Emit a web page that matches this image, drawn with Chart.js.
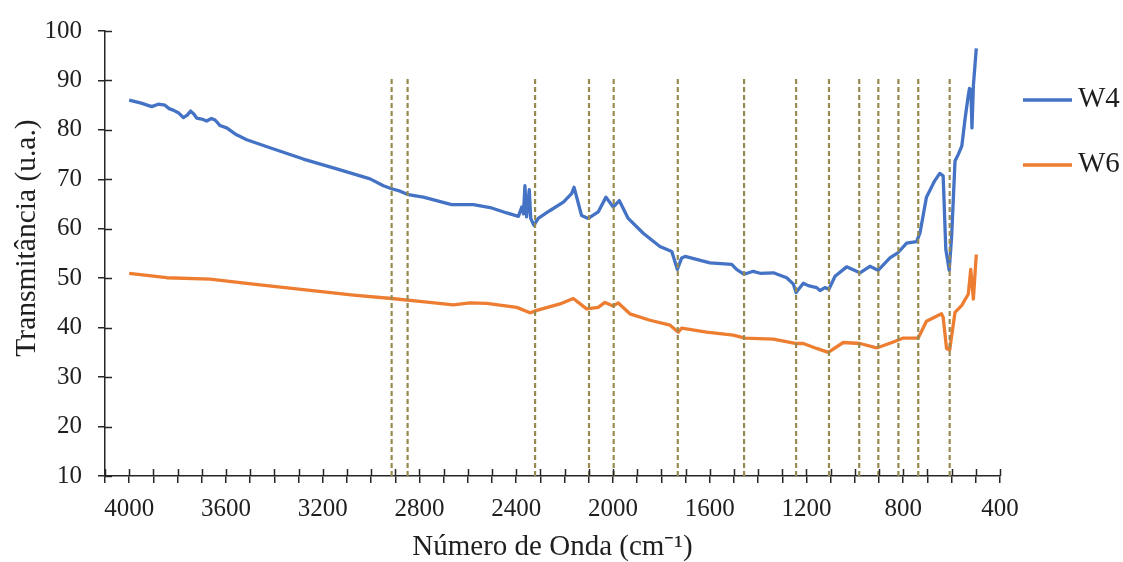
<!DOCTYPE html>
<html><head><meta charset="utf-8">
<script src="https://cdn.jsdelivr.net/npm/chart.js@4.4.0/dist/chart.umd.min.js"></script>
<style>html,body{margin:0;padding:0;background:#fff}#wrap{width:1123px;height:562px}</style>
</head><body><div id="wrap"><canvas id="c" width="1123" height="562"></canvas></div>
<script>
// ---- data ----
const seriesNames = ['W4', 'W6'];
const w4Wavenumber = [4000,3950,3907,3880,3852,3835,3818,3795,3776,3760,3746,3733,3721,3700,3680,3660,3645,3625,3597,3556,3514,3418,3280,3142,3004,2949,2915,2880,2846,2784,2667,2577,2508,2439,2391,2377,2370,2364,2357,2346,2340,2327,2309,2260,2205,2171,2161,2130,2102,2061,2029,1999,1974,1937,1875,1806,1757,1734,1716,1702,1599,1509,1489,1458,1420,1392,1337,1282,1254,1243,1213,1193,1158,1144,1124,1107,1082,1034,993,979,938,904,855,821,786,745,731,704,670,649,635,624,610,600,586,572,558,544,531,526,520,516,510,498];
const w4Values = [86.0,85.4,84.7,85.2,85.0,84.3,84.0,83.4,82.5,83.0,83.8,83.2,82.4,82.2,81.8,82.3,82.0,80.9,80.4,79.0,78.0,76.4,74.1,72.1,70.1,68.7,68.1,67.6,66.9,66.4,64.9,64.9,64.3,63.2,62.5,64.4,63.0,68.7,62.4,67.9,62.1,60.7,62.1,63.7,65.4,67.1,68.4,62.7,62.1,63.4,66.4,64.4,65.7,62.1,59.1,56.4,55.4,51.8,54.1,54.4,53.1,52.8,51.8,50.8,51.4,51.0,51.1,50.1,48.8,47.1,49.0,48.5,48.1,47.5,48.1,47.8,50.4,52.3,51.4,51.1,52.4,51.6,54.1,55.2,57.1,57.4,59.1,66.4,69.7,71.2,70.7,55.8,51.6,58.4,73.7,75.1,76.7,82.4,87.0,88.4,88.0,80.4,89.0,96.5];
const w6Wavenumber = [4000,3845,3666,3487,3280,3073,2915,2798,2660,2591,2522,2398,2343,2315,2219,2164,2109,2061,2033,1999,1978,1930,1847,1764,1730,1716,1613,1503,1454,1337,1247,1213,1158,1110,1048,979,910,841,800,738,704,642,635,621,608,586,558,531,521,510,498];
const w6Values = [51.0,50.1,49.8,48.8,47.7,46.6,45.9,45.3,44.6,45.0,44.9,44.1,43.0,43.5,44.8,45.9,43.8,44.1,45.1,44.4,45.0,42.8,41.5,40.5,39.1,39.9,39.1,38.5,37.9,37.7,36.8,36.8,35.8,35.0,37.0,36.8,35.9,37.1,37.9,37.9,41.3,42.8,42.1,35.8,35.5,43.1,44.5,46.8,51.8,45.8,54.8];
const markerWavenumbers = [2915,2849,2322,2099,1997,1732,1458,1243,1107,982,903,820,738,608];
const markerTop = 90.8;
const xTickLabels = [4000,3600,3200,2800,2400,2000,1600,1200,800,400];
const yTickLabels = [10,20,30,40,50,60,70,80,90,100];
const xTitle = 'Número de Onda (cm⁻¹)';
const yTitle = 'Transmitância (u.a.)';

// ---- styles ----
const FONT = "'Liberation Serif','Times New Roman',serif";
const TXT = '#1f1f1f';
const AX = '#262626';
const colors = ['#4472C4', '#ED7D31'];
const dashColor = '#978A50';

const toXY = (xs, ys) => xs.map((x, i) => ({x: x, y: ys[i]}));

const markerSets = markerWavenumbers.map(v => ({
  label: '', isMarker: true,
  data: [{x: v, y: yTickLabels[0]}, {x: v, y: markerTop}],
  borderColor: dashColor, borderWidth: 2.2, borderDash: [5, 3],
  pointRadius: 0, tension: 0, borderCapStyle: 'butt'
}));

const dataSets = [
  {label: seriesNames[0], data: toXY(w4Wavenumber, w4Values), borderColor: colors[0], borderWidth: 3.3, pointRadius: 0, tension: 0, borderJoinStyle: 'round'},
  {label: seriesNames[1], data: toXY(w6Wavenumber, w6Values), borderColor: colors[1], borderWidth: 3.3, pointRadius: 0, tension: 0, borderJoinStyle: 'round'}
];

const crossTicks = {
  id: 'crossTicks',
  afterDraw(chart) {
    const {ctx, scales: {x, y}, chartArea} = chart;
    ctx.save();
    ctx.strokeStyle = AX; ctx.lineWidth = 1.5;
    ctx.beginPath();
    x.ticks.forEach(t => { const px = Math.round(x.getPixelForValue(t.value)) + 0.5; ctx.moveTo(px, chartArea.bottom); ctx.lineTo(px, chartArea.bottom - 7); });
    y.ticks.forEach(t => { const py = Math.round(y.getPixelForValue(t.value)) + 0.5; ctx.moveTo(chartArea.left, py); ctx.lineTo(chartArea.left + 7, py); });
    ctx.stroke();
    // y axis title
    ctx.translate(27, 238);
    ctx.rotate(-Math.PI / 2);
    ctx.fillStyle = TXT; ctx.font = "29.5px " + FONT; ctx.textAlign = 'center'; ctx.textBaseline = 'middle';
    ctx.fillText(yTitle, 0, 0);
    ctx.restore();
  }
};

const sideLegend = {
  id: 'sideLegend',
  afterDraw(chart) {
    const {ctx} = chart;
    const items = chart.data.datasets.filter(d => !d.isMarker);
    ctx.save();
    items.forEach((d, i) => {
      const yy = 100 + i * 65;
      ctx.strokeStyle = d.borderColor; ctx.lineWidth = 3.3;
      ctx.beginPath(); ctx.moveTo(1023, yy); ctx.lineTo(1072, yy); ctx.stroke();
      ctx.fillStyle = TXT; ctx.font = "29px " + FONT; ctx.textBaseline = 'middle'; ctx.textAlign = 'left';
      ctx.fillText(d.label, 1078, yy - 1);
    });
    ctx.restore();
  }
};

new Chart(document.getElementById('c'), {
  type: 'line',
  data: {datasets: markerSets.concat(dataSets)},
  options: {
    responsive: false, animation: false, devicePixelRatio: 1,
    layout: {padding: {left: 0, top: 25, right: 123, bottom: 0}},
    plugins: {legend: {display: false}, tooltip: {enabled: false}},
    elements: {line: {borderCapStyle: 'butt'}},
    scales: {
      x: {
        type: 'linear', reverse: true, min: 400, max: 4100,
        afterBuildTicks(s) { const t = []; for (let v = 4100; v >= 400; v -= 100) t.push({value: v}); s.ticks = t; },
        afterFit(s) { s.height = 86; },
        ticks: {autoSkip: false, maxRotation: 0, minRotation: 0, padding: 11, color: TXT,
          font: {family: FONT, size: 25},
          callback: v => xTickLabels.includes(v) ? String(v) : ''},
        grid: {drawOnChartArea: false, drawTicks: true, tickLength: 7, color: AX, lineWidth: 1.5},
        border: {display: true, color: AX, width: 1.5},
        title: {display: true, text: xTitle, color: TXT, font: {family: FONT, size: 29, lineHeight: 1}, padding: {top: 0, bottom: 0}}
      },
      y: {
        min: 10, max: 100,
        afterBuildTicks(s) { s.ticks = yTickLabels.map(v => ({value: v})); },
        afterFit(s) { s.width = 105; },
        ticks: {padding: 16, color: TXT, font: {family: FONT, size: 25}},
        grid: {drawOnChartArea: false, drawTicks: true, tickLength: 7, color: AX, lineWidth: 1.5},
        border: {display: true, color: AX, width: 1.5},
        title: {display: false}
      }
    }
  },
  plugins: [crossTicks, sideLegend]
});
</script>
</body></html>
